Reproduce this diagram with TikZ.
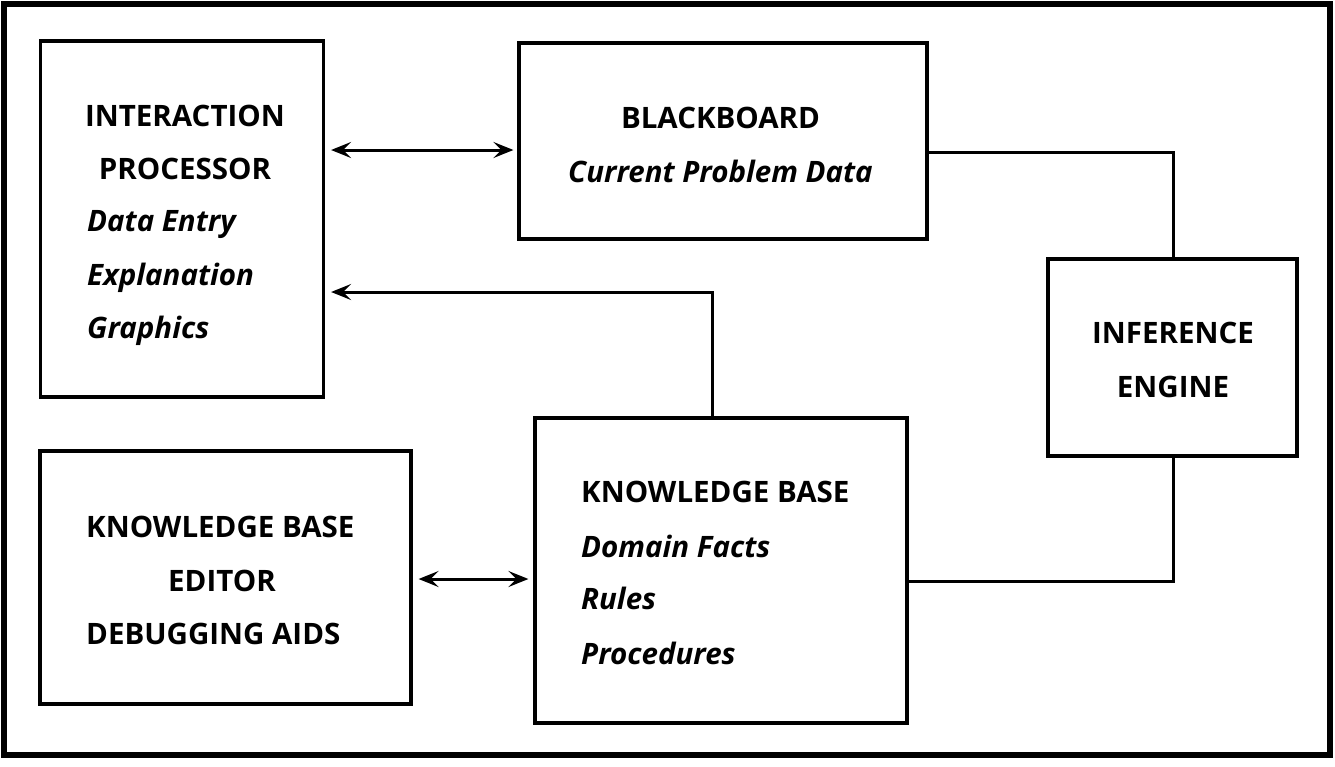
\documentclass[tikz,border=0pt]{standalone}
\usepackage{fontspec}
\setmainfont{Open Sans}
\usetikzlibrary{arrows.meta}

\begin{document}
\begin{tikzpicture}[x=1pt,y=-1pt,
  box/.style={draw, line width=3.2pt, rectangle, inner sep=0pt},
  lbl/.style={inner sep=0pt, font=\fontsize{29.5}{35}\selectfont\bfseries},
  ilbl/.style={lbl, font=\fontsize{29.5}{35}\selectfont\bfseries\itshape},
  link/.style={line width=3pt},
  tip/.style={-{Stealth[length=20pt,width=16pt,inset=8pt]}},
  dtip/.style={{Stealth[length=20pt,width=16pt,inset=8pt]}-{Stealth[length=20pt,width=16pt,inset=8pt]}}
]
\useasboundingbox (0,0) rectangle (1335,766);
% outer frame
\draw[line width=6pt] (4,4) rectangle (1330,755);

% boxes
\node[box, minimum width=283pt, minimum height=356pt] (ip)  at (182,219) {};
\node[box, minimum width=408pt, minimum height=196pt] (bb)  at (723,141) {};
\node[box, minimum width=249pt, minimum height=197pt] (ie)  at (1172.5,357.5) {};
\node[box, minimum width=371pt, minimum height=253pt] (kbe) at (225.5,577.5) {};
\node[box, minimum width=372pt, minimum height=305pt] (kb)  at (721,570.5) {};

% interaction processor
\node[lbl, anchor=base]      (ip1) at (185,126) {INTERACTION};
\node[lbl, anchor=base]      (ip2) at (185,179) {PROCESSOR};
\node[ilbl, anchor=base west] (ip3) at (87,231) {Data Entry};
\node[ilbl, anchor=base west] (ip4) at (87,285) {Explanation};
\node[ilbl, anchor=base west] (ip5) at (87,338) {Graphics};

% blackboard
\node[lbl, anchor=base]  (bb1) at (720.5,128) {BLACKBOARD};
\node[ilbl, anchor=base] (bb2) at (720.5,182) {Current Problem Data};

% inference engine
\node[lbl, anchor=base] (ie1) at (1173,343) {INFERENCE};
\node[lbl, anchor=base] (ie2) at (1173,397) {ENGINE};

% knowledge base editor
\node[lbl, anchor=base west] (kbe1) at (86,537) {KNOWLEDGE BASE};
\node[lbl, anchor=base]      (kbe2) at (222,591) {EDITOR};
\node[lbl, anchor=base west] (kbe3) at (86,644) {DEBUGGING AIDS};

% knowledge base
\node[lbl, anchor=base west]  (kb1) at (581,502) {KNOWLEDGE BASE};
\node[ilbl, anchor=base west] (kb2) at (581,557) {Domain Facts};
\node[ilbl, anchor=base west] (kb3) at (581,609) {Rules};
\node[ilbl, anchor=base west] (kb4) at (581,664) {Procedures};

% connectors
\coordinate (r1) at (0,150);
\draw[link, dtip, shorten <=6pt, shorten >=4pt] (r1 -| ip.east) -- (r1 -| bb.west);

\coordinate (k1) at (712,292);
\draw[link, tip, shorten >=6pt] (k1 |- kb.north) -- (k1) -- (k1 -| ip.east);

\coordinate (b1) at (1173,152);
\draw[link] (b1 -| bb.east) -- (b1) -- (b1 |- ie.north);

\coordinate (c1) at (1173,581);
\draw[link] (c1 -| kb.east) -- (c1) -- (c1 |- ie.south);

\coordinate (e1) at (0,579);
\draw[link, dtip, shorten <=6pt, shorten >=5pt] (e1 -| kbe.east) -- (e1 -| kb.west);
\end{tikzpicture}
\end{document}
